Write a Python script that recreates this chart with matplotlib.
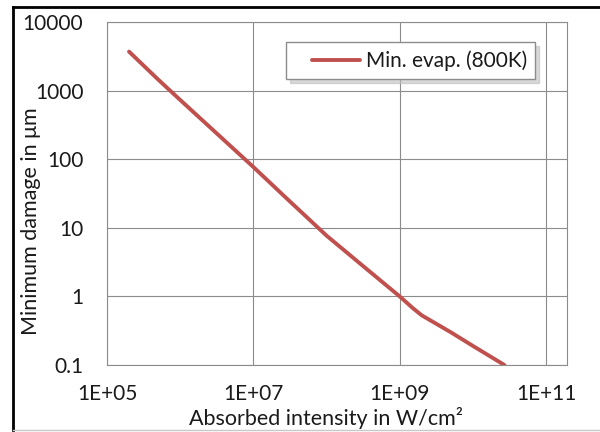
import numpy as np
import matplotlib
matplotlib.use("Agg")
import matplotlib.pyplot as plt
from matplotlib.lines import Line2D
from matplotlib.legend_handler import HandlerLine2D

# Data
intensity = [2.0e5, 5e5, 1e6, 3e6, 1e7, 3e7, 1e8, 3e8, 1e9, 1.5e9, 2e9, 5e9, 1e10, 2.7e10]
damage = [3700, 1450, 731, 250, 77, 25.5, 7.7, 2.9, 1.0, 0.68, 0.53, 0.30, 0.19, 0.1]
series_label = "Min. evap. (800K)"

x_ticks = [1e5, 1e7, 1e9, 1e11]
x_tick_labels = ["1E+05", "1E+07", "1E+09", "1E+11"]
y_ticks = [0.1, 1, 10, 100, 1000, 10000]
y_tick_labels = ["0.1", "1", "10", "100", "1000", "10000"]

plt.rcParams['font.family'] = ['Lato', 'DejaVu Sans']

RED = "#C0504D"
GRID = "#8c8c8c"
TXT = "#1a1a1a"


class PaddedLine(HandlerLine2D):
    """Line handle with some blank space on its left (Excel-like legend)."""
    def create_artists(self, legend, orig_handle, xdescent, ydescent, width, height, fontsize, trans):
        lead = 0.85 * fontsize
        return super().create_artists(legend, orig_handle, xdescent - lead, ydescent,
                                      width - lead, height, fontsize, trans)


fig = plt.figure(figsize=(6, 4.32), dpi=100)
ax = fig.add_axes([107 / 600, 1 - 365 / 432, 460 / 600, 343 / 432])

ax.plot(intensity, damage, color=RED, lw=2.8, solid_capstyle='round', label=series_label)

ax.set_xscale('log')
ax.set_yscale('log')
ax.set_xlim(1e5, 10 ** 11.287)
ax.set_ylim(0.1, 10000)

ax.set_xticks(x_ticks)
ax.set_xticklabels(x_tick_labels)
ax.set_yticks(y_ticks)
ax.set_yticklabels(y_tick_labels)
ax.minorticks_off()
ax.tick_params(length=0, labelsize=15, colors=TXT)
ax.tick_params(axis='y', pad=17)
ax.tick_params(axis='x', pad=14)

ax.grid(True, color=GRID, lw=0.8)
ax.set_axisbelow(True)
for s in ax.spines.values():
    s.set_color(GRID)
    s.set_linewidth(0.8)

ax.set_xlabel("Absorbed intensity in W/cm²", fontsize=15.5, color=TXT, va='center')
ax.xaxis.set_label_coords(0.476, -0.155)
ax.set_ylabel("Minimum damage in μm", fontsize=15.5, color=TXT, va='center')
ax.yaxis.set_label_coords(-0.165, 0.42)

leg = ax.legend(loc='upper left', bbox_to_anchor=(0.389, 0.942), borderaxespad=0,
                fontsize=15, handlelength=3.17, handletextpad=0.25, borderpad=0.4,
                fancybox=False, edgecolor=GRID, framealpha=1,
                shadow={'ox': 3, 'oy': -3, 'color': '0.75', 'alpha': 0.6},
                handler_map={Line2D: PaddedLine()})
leg.get_frame().set_linewidth(1.0)
for t in leg.get_texts():
    t.set_color(TXT)

# outer chart border (cropped on the right)
fig.add_artist(Line2D([13 / 600, 1], [1 - 7 / 432, 1 - 7 / 432], color='black', lw=2))
fig.add_artist(Line2D([13 / 600, 13 / 600], [2 / 432, 1 - 7 / 432], color='black', lw=2))
fig.add_artist(Line2D([13 / 600, 1], [2 / 432, 2 / 432], color='#c8c8c8', lw=1))

fig.savefig("out.png", dpi=100)
